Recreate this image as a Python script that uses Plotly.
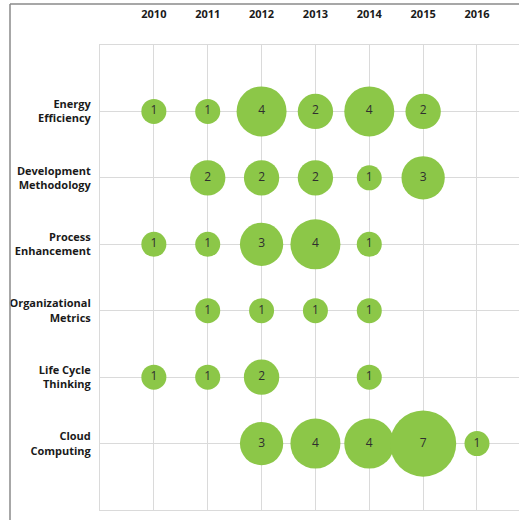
import plotly.graph_objects as go

years = [2010, 2011, 2012, 2013, 2014, 2015, 2016]
categories = ["Energy<br>Efficiency", "Development<br>Methodology", "Process<br>Enhancement",
              "Organizational<br>Metrics", "Life Cycle<br>Thinking", "Cloud<br>Computing"]

energy_efficiency = [1, 1, 4, 2, 4, 2, None]
development_methodology = [None, 2, 2, 2, 1, 3, None]
process_enhancement = [1, 1, 3, 4, 1, None, None]
organizational_metrics = [None, 1, 1, 1, 1, None, None]
life_cycle_thinking = [1, 1, 2, None, 1, None, None]
cloud_computing = [None, None, 3, 4, 4, 7, 1]

rows = [energy_efficiency, development_methodology, process_enhancement,
        organizational_metrics, life_cycle_thinking, cloud_computing]

xs, ys, vals = [], [], []
for ri, row in enumerate(rows):
    for yi, v in enumerate(row):
        if v is not None:
            xs.append(years[yi])
            ys.append(ri)
            vals.append(v)

fig = go.Figure(go.Scatter(
    x=xs, y=ys, mode="markers+text",
    text=[str(v) for v in vals],
    textposition="middle center",
    textfont=dict(family="Open Sans", size=12, color="#2f2f2f"),
    marker=dict(size=vals, sizemode="area", sizeref=1 / 312.5,
                color="#8cc748", line=dict(width=0), opacity=1),
    hoverinfo="skip", cliponaxis=False,
))

grid = "#dadada"
fig.update_layout(
    width=519, height=520,
    margin=dict(l=100, r=0, t=45, b=10),
    paper_bgcolor="white", plot_bgcolor="white",
    showlegend=False,
    xaxis=dict(side="top", range=[2009, 2016.78], tickmode="array",
               tickvals=years, ticktext=[str(y) for y in years],
               showgrid=True, gridcolor=grid, gridwidth=1, zeroline=False,
               showline=True, linecolor=grid, linewidth=1, mirror=True,
               ticks="", ticklabelstandoff=22, automargin=False,
               tickfont=dict(family="Open Sans", size=11, color="#1a1a1a", weight="bold")),
    yaxis=dict(range=[6, -1], tickmode="array", tickvals=list(range(len(categories))),
               ticktext=categories, showgrid=True, gridcolor=grid, gridwidth=1,
               zeroline=False, showline=True, linecolor=grid, linewidth=1,
               ticks="", ticklabelstandoff=6, automargin=False,
               tickfont=dict(family="Open Sans", size=11, color="#1a1a1a", weight="bold")),
    shapes=[
        dict(type="line", xref="paper", yref="paper", x0=-90 / 419, x1=1.0,
             y0=1 + 41 / 465, y1=1 + 41 / 465, layer="above",
             line=dict(color="#8a8a8a", width=1.5)),
        dict(type="line", xref="paper", yref="paper", x0=-90 / 419, x1=-90 / 419,
             y0=-10 / 465, y1=1 + 41 / 465, layer="above",
             line=dict(color="#8a8a8a", width=1.5)),
    ],
)

fig.write_html("out.html", config={"displayModeBar": False},
               post_script="document.body.style.margin='0';document.body.style.overflow='hidden';")
